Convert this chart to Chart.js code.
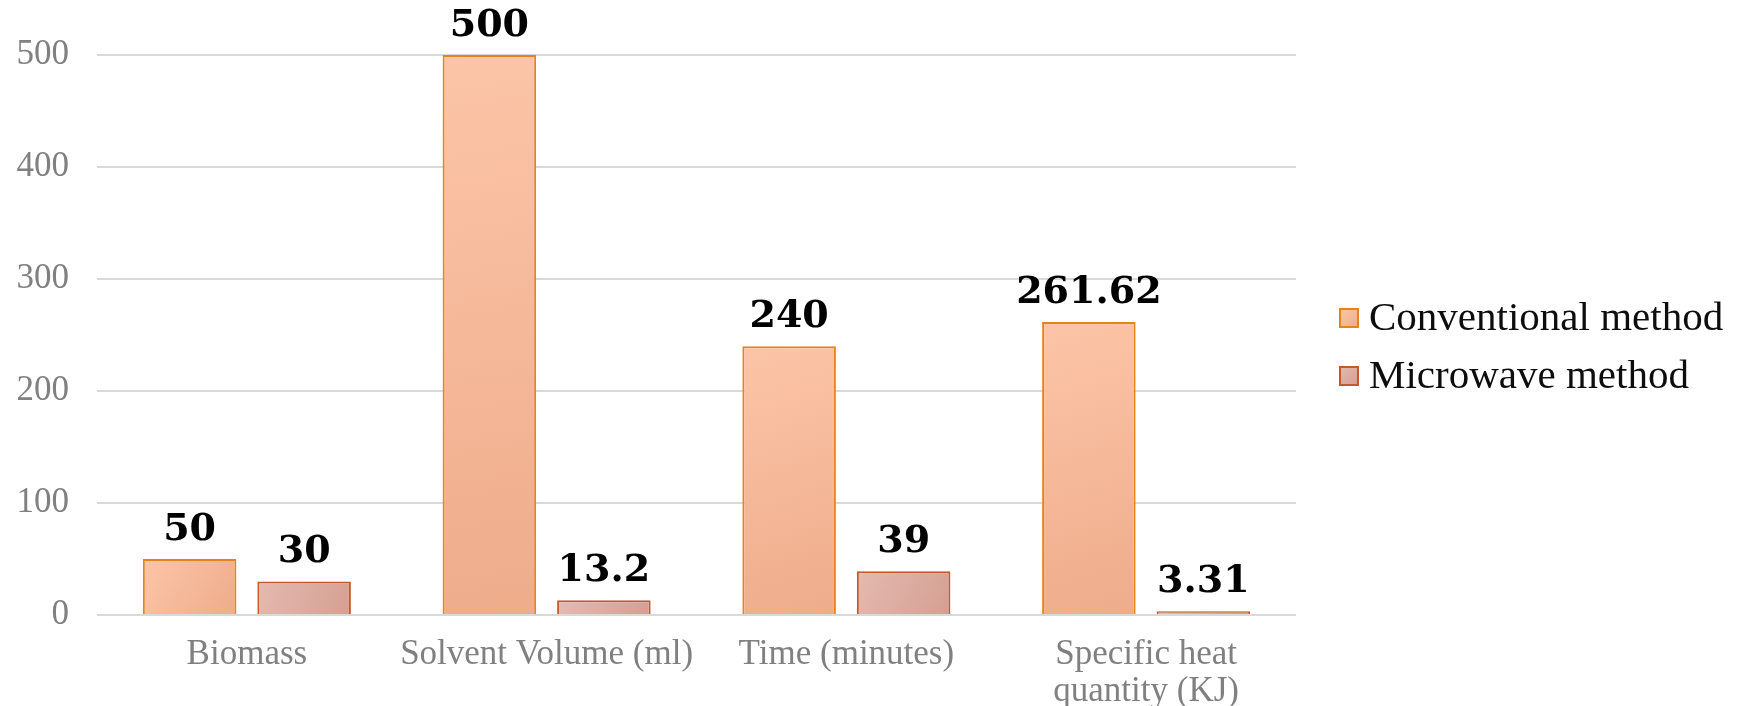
<!DOCTYPE html>
<html>
<head>
<meta charset="utf-8">
<title>Conventional vs microwave extraction</title>
<script src="https://cdn.jsdelivr.net/npm/chart.js@4/dist/chart.umd.min.js"></script>
<style>
  html, body { margin: 0; padding: 0; background: #ffffff; }
  #wrap { width: 1740px; height: 706px; }
</style>
</head>
<body>
<div id="wrap"><canvas id="chart" width="1740" height="706"></canvas></div>
<script>
// Categories (multi-line labels are arrays)
const categories = [
  'Biomass',
  'Solvent Volume (ml)',
  'Time (minutes)',
  ['Specific heat', 'quantity (KJ)']
];

// Series values
const conventionalValues = [50, 500, 240, 261.62];
const microwaveValues = [30, 13.2, 39, 3.31];

// Series names
const seriesNames = ['Conventional method', 'Microwave method'];

// Y axis ticks
const yTicks = [0, 100, 200, 300, 400, 500];

// Styling
const CAT_PCT = 0.764;
const BAR_PCT = 0.817;
const palette = [
  { light: '#fcc5a7', dark: '#eeac8b', border: '#e8821c' },
  { light: '#e4bab0', dark: '#d59f92', border: '#c4592e' }
];
const labelFont = '"Liberation Serif", "Times New Roman", serif';
const valueFont = '"DejaVu Serif", Georgia, serif';

// Diagonal gradient per bar, computed from the scales
function barFill(seriesIdx) {
  const p = palette[seriesIdx];
  return (ctx) => {
    const chart = ctx.chart;
    const { chartArea, scales } = chart;
    if (!chartArea || ctx.type !== 'data' || !scales.x || !scales.y) return p.light;
    const xs = scales.x, ys = scales.y;
    const catW = xs.width / categories.length;
    const slot = catW * CAT_PCT / 2;
    const cx = xs.getPixelForValue(ctx.dataIndex) + (ctx.datasetIndex - 0.5) * slot;
    const w = slot * BAR_PCT;
    const top = ys.getPixelForValue(ctx.raw);
    const bottom = ys.getPixelForValue(0);
    const g = chart.ctx.createLinearGradient(cx - w / 2, top, cx + w / 2, bottom);
    g.addColorStop(0, p.light);
    g.addColorStop(1, p.dark);
    return g;
  };
}

// Value labels above each bar
const valueLabels = {
  id: 'valueLabels',
  afterDatasetsDraw(chart) {
    const c = chart.ctx;
    c.save();
    c.font = 'bold 38px ' + valueFont;
    c.fillStyle = '#000000';
    c.textAlign = 'center';
    c.textBaseline = 'alphabetic';
    chart.data.datasets.forEach((ds, di) => {
      const meta = chart.getDatasetMeta(di);
      meta.data.forEach((bar, i) => {
        c.fillText(String(ds.data[i]), bar.x, bar.y - 19);
      });
    });
    c.restore();
  }
};

// Legend on the right side
const sideLegend = {
  id: 'sideLegend',
  afterDraw(chart) {
    const c = chart.ctx;
    const area = chart.chartArea;
    const boxX = area.right + 44;
    const box = 18;
    const centerY = (area.top + area.bottom) / 2 + 12;
    const gap = 58;
    c.save();
    c.font = '41px ' + labelFont;
    c.textBaseline = 'middle';
    c.textAlign = 'left';
    seriesNames.forEach((name, i) => {
      const p = palette[i];
      const y = centerY + (i - 0.5) * gap;
      const g = c.createLinearGradient(boxX, y - box / 2, boxX + box, y + box / 2);
      g.addColorStop(0, p.light);
      g.addColorStop(1, p.dark);
      c.fillStyle = g;
      c.fillRect(boxX, y - box / 2, box, box);
      c.strokeStyle = p.border;
      c.lineWidth = 2;
      c.strokeRect(boxX, y - box / 2, box, box);
      c.fillStyle = '#0d0d0d';
      c.fillText(name, boxX + box + 11, y + 1);
    });
    c.restore();
  }
};

new Chart(document.getElementById('chart'), {
  type: 'bar',
  data: {
    labels: categories,
    datasets: [
      {
        label: seriesNames[0],
        data: conventionalValues,
        backgroundColor: barFill(0),
        borderColor: palette[0].border,
        borderWidth: 2,
        categoryPercentage: CAT_PCT,
        barPercentage: BAR_PCT
      },
      {
        label: seriesNames[1],
        data: microwaveValues,
        backgroundColor: barFill(1),
        borderColor: palette[1].border,
        borderWidth: 2,
        categoryPercentage: CAT_PCT,
        barPercentage: BAR_PCT
      }
    ]
  },
  options: {
    responsive: false,
    animation: false,
    layout: { padding: { top: 55, right: 444, bottom: 0, left: 0 } },
    plugins: {
      legend: { display: false },
      tooltip: { enabled: false }
    },
    scales: {
      x: {
        grid: { display: false, drawTicks: false },
        border: { display: false },
        ticks: {
          color: '#808080',
          padding: 21,
          font: { family: labelFont, size: 35, lineHeight: 1.06 },
          maxRotation: 0,
          autoSkip: false
        },
        afterFit(scale) { scale.height = 91; }
      },
      y: {
        min: 0,
        max: 500,
        afterBuildTicks(scale) { scale.ticks = yTicks.map(v => ({ value: v })); },
        grid: { color: '#d9d9d9', lineWidth: 2, drawTicks: false },
        border: { display: false },
        ticks: {
          color: '#808080',
          padding: 28,
          font: { family: labelFont, size: 35 }
        },
        afterFit(scale) { scale.width = 97; }
      }
    }
  },
  plugins: [valueLabels, sideLegend]
});
</script>
</body>
</html>
